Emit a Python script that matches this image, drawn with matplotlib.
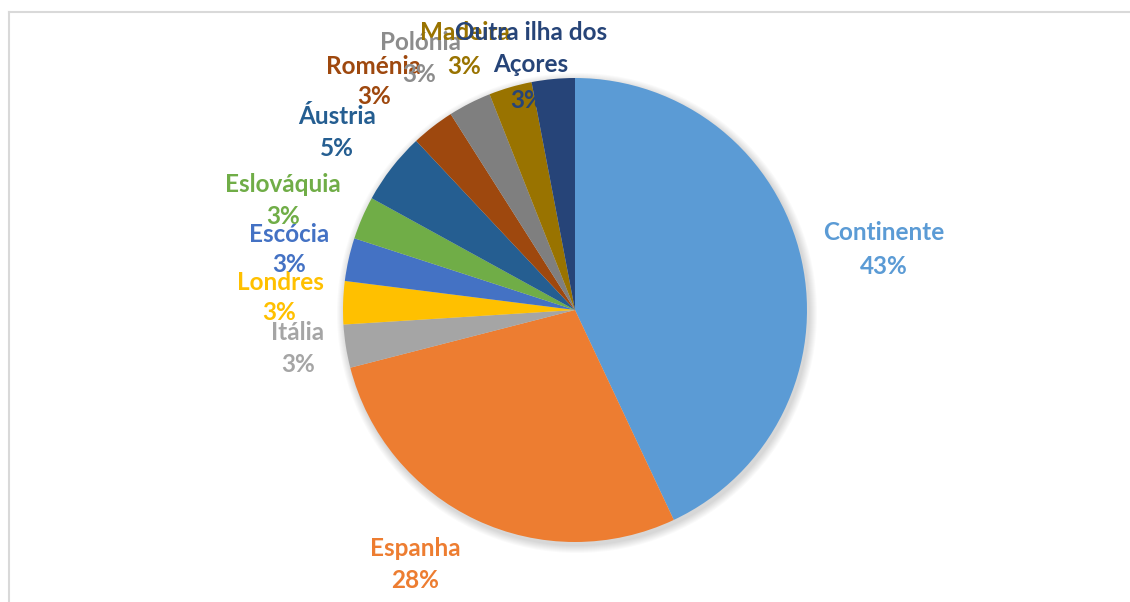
import matplotlib
matplotlib.use("Agg")
import matplotlib.pyplot as plt
from matplotlib.lines import Line2D
from matplotlib.patches import Circle

categories = ["Continente", "Espanha", "Itália", "Londres", "Escócia", "Eslováquia",
              "Áustria", "Roménia", "Polónia", "Madeira", "Outra ilha dos\nAçores"]
values = [43, 28, 3, 3, 3, 3, 5, 3, 3, 3, 3]
pct_labels = ["43%", "28%", "3%", "3%", "3%", "3%", "5%", "3%", "3%", "3%", "3%"]

colors = ["#5B9BD5", "#ED7D31", "#A5A5A5", "#FFC000", "#4472C4", "#70AD47",
          "#255E91", "#9E480E", "#7F7F7F", "#997300", "#264478"]
label_colors = ["#5B9BD5", "#ED7D31", "#A5A5A5", "#FFC000", "#4472C4", "#70AD47",
                "#255E91", "#9E480E", "#8C8C8C", "#997300", "#264478"]

# label layout (pixel positions, top-left origin): (x, y_name, y_pct, x_pct)
W, H = 1130, 602
label_pos = [(884, 233, 267, 884), (415, 549, 581, 415), (298, 332, 364, 298),
             (280, 283, 313, 279), (289, 234, 265, 289), (283, 185, 216, 283),
             (337, 116, 148, 337), (373, 66, 96, 374), (420, 43, 74, 419),
             (465, 33, 66, 464), (531, 33, 100, 527)]
label_z = [5, 5, 9, 8, 9, 8, 5, 6, 7, 8, 9]

fig = plt.figure(figsize=(W / 100, H / 100), dpi=100)
ax = fig.add_axes([0, 0, 1, 1])

cx, cy, r = 575, H - 310, 232

# soft shadow
for i in range(8):
    ax.add_patch(Circle((cx + 2, cy - 3), r + 8 - i, facecolor="black",
                        alpha=0.018, edgecolor="none", zorder=1))

ax.pie(values, colors=colors, startangle=90, counterclock=False, center=(cx, cy),
       radius=r, wedgeprops=dict(edgecolor="none", zorder=2), frame=True)
ax.set_xlim(0, W)
ax.set_ylim(0, H)
ax.set_aspect("equal")
ax.axis("off")

fs = 17.5
for i, cat in enumerate(categories):
    x, yn, yp, xp = label_pos[i]
    kw = dict(ha="center", va="center", fontsize=fs, fontweight="bold",
              color=label_colors[i], family="Lato", zorder=label_z[i])
    if "\n" in cat:
        a, b = cat.split("\n")
        ax.text(x, H - yn, a, **kw)
        ax.text(x, H - 65, b, **kw)
    else:
        ax.text(x, H - yn, cat, **kw)
    ax.text(xp, H - yp, pct_labels[i], **kw)

# chart frame
fig.add_artist(Line2D([8.5 / W, 8.5 / W], [0, 1 - 11.5 / H], transform=fig.transFigure,
                      color="#D9D9D9", lw=1.5))
fig.add_artist(Line2D([8.5 / W, 1], [1 - 11.5 / H, 1 - 11.5 / H], transform=fig.transFigure,
                      color="#D9D9D9", lw=1.5))

fig.savefig("out.png", dpi=100, facecolor="white")
